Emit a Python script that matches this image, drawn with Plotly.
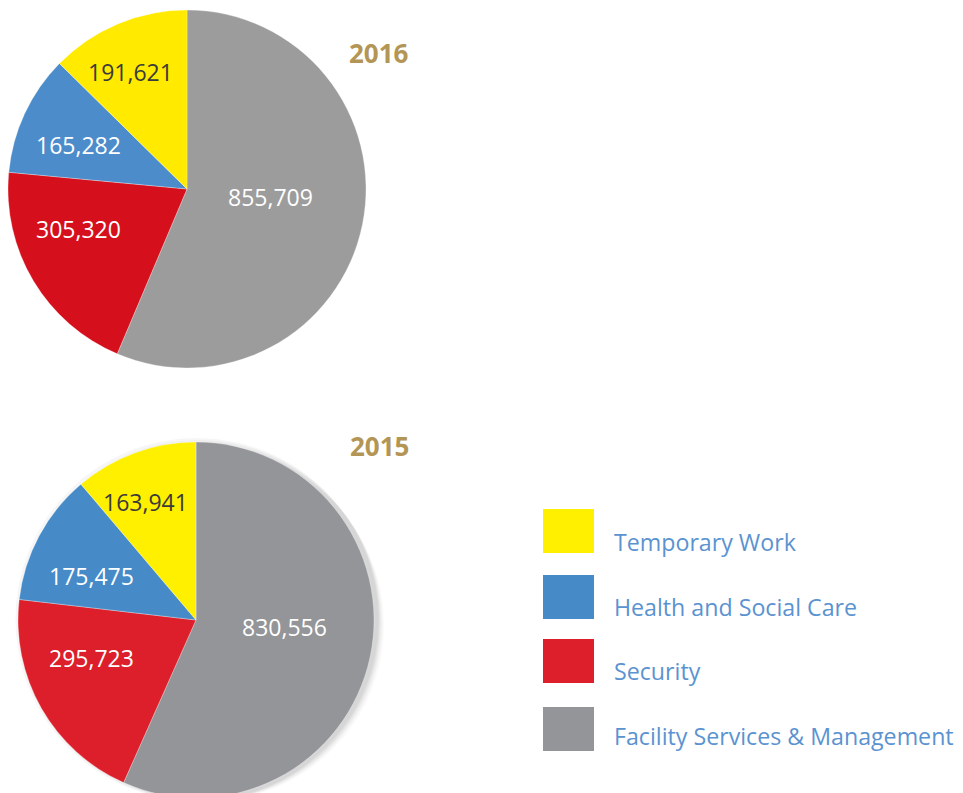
import plotly.graph_objects as go

W, H = 963, 793
OFF = 8  # page body margin; convert window pixels -> figure pixels

# ---- data ----
categories = ["Facility Services & Management", "Security", "Health and Social Care", "Temporary Work"]
values_2016 = [855709, 305320, 165282, 191621]
values_2015 = [830556, 295723, 175475, 163941]
legend_order = ["Temporary Work", "Health and Social Care", "Security", "Facility Services & Management"]
years = ["2016", "2015"]

colors_2016 = {"Facility Services & Management": "#9c9c9c", "Security": "#d60f1c",
               "Health and Social Care": "#4c8cca", "Temporary Work": "#ffea00"}
colors_2015 = {"Facility Services & Management": "#949598", "Security": "#dc1f2b",
               "Health and Social Care": "#468bc8", "Temporary Work": "#fff000"}
label_colors = {"Facility Services & Management": "white", "Security": "white",
                "Health and Social Care": "white", "Temporary Work": "#3b3b3b"}

FONT = "Open Sans"


def px(x, y):
    return (x - OFF) / W, 1 - (y - OFF) / H


def px_dom(x0, x1, y0, y1):
    a, b = px(x0, y1)
    c, d = px(x1, y0)
    return dict(x=[max(a, 0), min(c, 1)], y=[max(b, 0), min(d, 1)])


fig = go.Figure()

# soft shadow behind the 2015 pie
for i, a in enumerate([0.012, 0.016, 0.02, 0.024, 0.028, 0.032, 0.036]):
    off = 13 - 2 * i
    fig.add_trace(go.Pie(
        values=[1], labels=["shadow"], sort=False, textinfo="none", hoverinfo="skip",
        marker=dict(colors=[f"rgba(0,0,0,{a})"], line=dict(width=0)),
        domain=px_dom(18 + off - 5, 374 + off + 5, 442 + off - 5, 798 + off + 5),
        showlegend=False))

# top pie 2016
fig.add_trace(go.Pie(
    labels=categories, values=values_2016, sort=False, direction="clockwise", rotation=0,
    textinfo="none", marker=dict(colors=[colors_2016[c] for c in categories],
                                 line=dict(color="rgba(255,255,255,0.5)", width=0.6)),
    domain=px_dom(8, 366, 10, 368), showlegend=False))

# bottom pie 2015
fig.add_trace(go.Pie(
    labels=categories, values=values_2015, sort=False, direction="clockwise", rotation=0,
    textinfo="none", marker=dict(colors=[colors_2015[c] for c in categories],
                                 line=dict(color="rgba(255,255,255,0.5)", width=0.6)),
    domain=px_dom(18, 374, 442, 798), showlegend=False))

# value labels (positions in window pixels)
label_pos_2016 = {"Facility Services & Management": (270, 197), "Security": (78, 229),
                  "Health and Social Care": (78, 145), "Temporary Work": (131, 72)}
label_pos_2015 = {"Facility Services & Management": (284, 627), "Security": (91, 658),
                  "Health and Social Care": (91, 576), "Temporary Work": (145, 502)}

for vals, pos in [(values_2016, label_pos_2016), (values_2015, label_pos_2015)]:
    for c, v in zip(categories, vals):
        x, y = px(*pos[c])
        fig.add_annotation(x=x, y=y, xref="paper", yref="paper",
                           text=f"{v:,}", showarrow=False, xanchor="center", yanchor="middle",
                           font=dict(family=FONT, size=23, color=label_colors[c]))

# year titles
for yr, p in zip(years, [(379, 53), (379, 446)]):
    x, y = px(*p)
    fig.add_annotation(x=x, y=y, xref="paper", yref="paper", text=f"<b>{yr}</b>",
                       showarrow=False, xanchor="center", yanchor="middle",
                       font=dict(family=FONT, size=26, color="#b39655"))

# legend (squares + text)
leg_box_y = [531, 597, 661, 729]
leg_text_y = [542, 607, 671, 736]
for c, yc, yt in zip(legend_order, leg_box_y, leg_text_y):
    x0, y0 = px(543, yc + 22)
    x1, y1 = px(594, yc - 22)
    fig.add_shape(type="rect", xref="paper", yref="paper", x0=x0, x1=x1, y0=y0, y1=y1,
                  fillcolor=colors_2015[c], line=dict(width=0))
    tx, ty = px(612, yt)
    fig.add_annotation(x=tx, y=ty, xref="paper", yref="paper", text=c,
                       showarrow=False, xanchor="left", yanchor="middle",
                       font=dict(family=FONT, size=23.2, color="#5b93d1"))

fig.update_layout(width=W, height=H, margin=dict(l=0, r=0, t=0, b=0),
                  paper_bgcolor="white", plot_bgcolor="white", showlegend=False)

fig.write_html("out.html")
